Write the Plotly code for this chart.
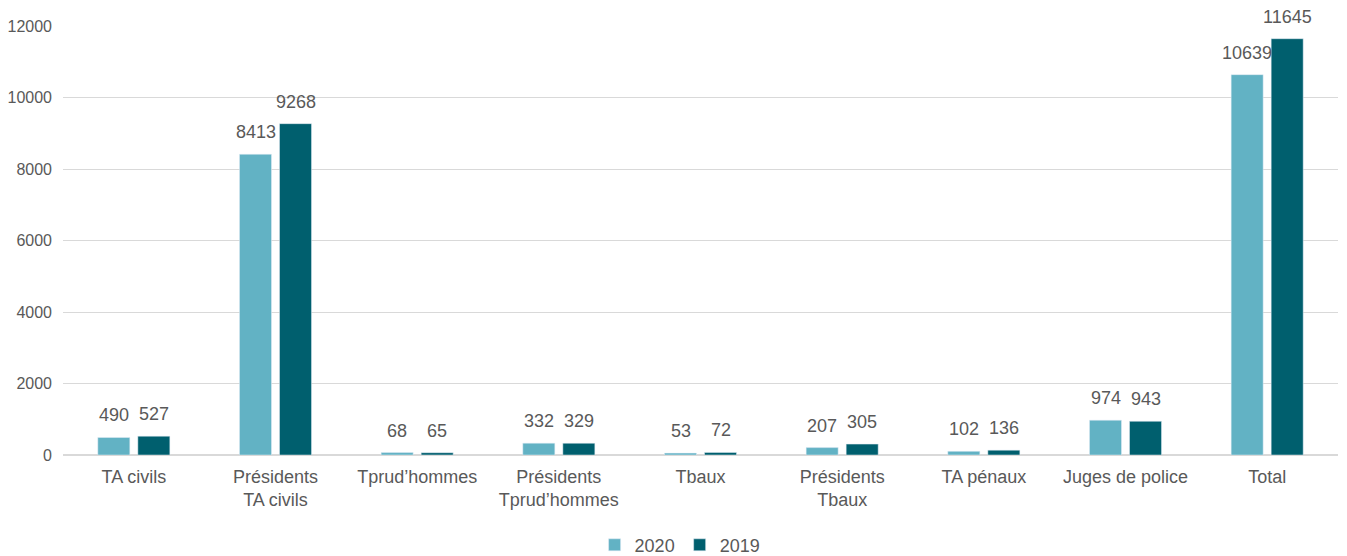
import plotly.graph_objects as go

categories = ["TA civils", "Présidents<br>TA civils", "Tprud’hommes", "Présidents<br>Tprud’hommes",
              "Tbaux", "Présidents<br>Tbaux", "TA pénaux", "Juges de police", "Total"]
values_2020 = [490, 8413, 68, 332, 53, 207, 102, 974, 10639]
values_2019 = [527, 9268, 65, 329, 72, 305, 136, 943, 11645]
y_ticks = [0, 2000, 4000, 6000, 8000, 10000, 12000]
y_tick_text = ["0", "2000", "4000", "6000", "8000", "10000", "12000"]

font_family = "Liberation Sans"
text_color = "#595959"
c2020 = "#62B2C4"
c2019 = "#005F6E"

fig = go.Figure()
fig.add_trace(go.Bar(name="2020", x=categories, y=values_2020, marker_color=c2020))
fig.add_trace(go.Bar(name="2019", x=categories, y=values_2019, marker_color=c2019))

annotations = []
for vals, shift in ((values_2020, -20), (values_2019, 20)):
    for cat, v in zip(categories, vals):
        annotations.append(dict(x=cat, y=v, xref="x", yref="y", text=str(v), showarrow=False,
                                xshift=shift, yshift=10, yanchor="bottom",
                                font=dict(size=18, color=text_color, family=font_family)))

fig.update_layout(
    width=1339, height=548,
    barmode="group", bargap=0.435, bargroupgap=0.2,
    plot_bgcolor="white", paper_bgcolor="white",
    margin=dict(l=55, r=9, t=18, b=101, autoexpand=False),
    font=dict(family=font_family, size=16, color=text_color),
    showlegend=True,
    legend=dict(orientation="h", x=0.484, xanchor="center", y=-0.21, yanchor="middle",
                font=dict(size=18, color=text_color, family=font_family), traceorder="normal",
                itemwidth=30),
    annotations=annotations,
)
fig.update_yaxes(range=[0, 12000], tickvals=y_ticks, ticktext=y_tick_text, showgrid=True,
                 gridcolor="#D9D9D9", automargin=False, ticklabelstandoff=10,
                 zeroline=True, zerolinecolor="#D9D9D9", zerolinewidth=1.5,
                 tickfont=dict(size=16, color=text_color, family=font_family), ticks="")
fig.update_xaxes(showgrid=False, showline=False, automargin=False, ticklabelstandoff=9,
                 tickfont=dict(size=18, color=text_color, family=font_family))

fig.write_html("out.html")
